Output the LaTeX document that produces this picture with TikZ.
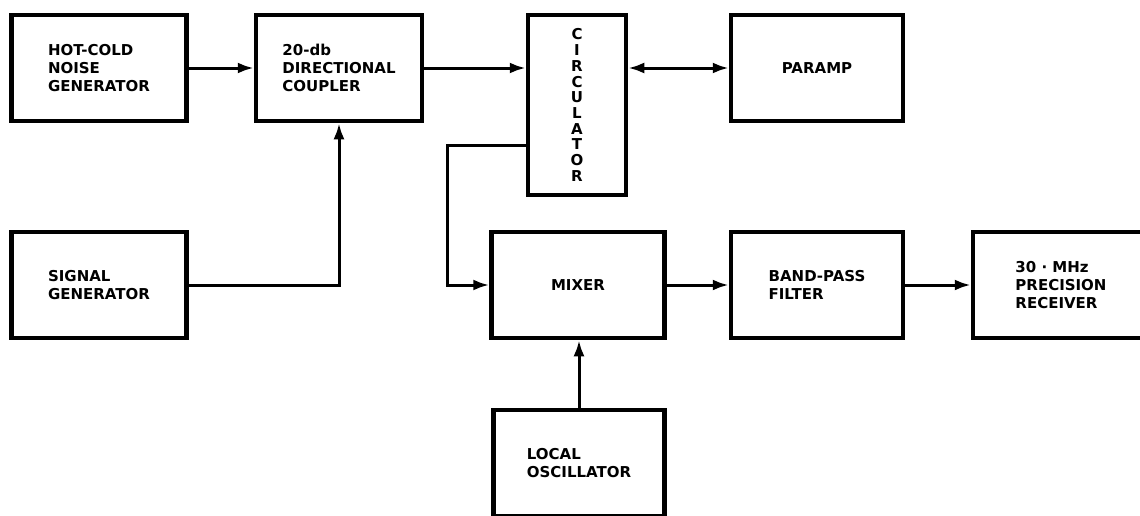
\documentclass[tikz,border=0pt]{standalone}
\usepackage{fontspec}
\setmainfont{DejaVu Sans}
\usetikzlibrary{arrows.meta,positioning}
\tikzset{
  cblk/.style={rectangle, draw, line width=4.5pt, align=left, inner sep=0pt,
               font=\fontsize{15}{18}\selectfont\bfseries, minimum width=175pt, minimum height=106pt},
  carr/.style={-{Latex[length=16pt,width=11pt]}, line width=3pt},
  cdbl/.style={{Latex[length=16pt,width=11pt]}-{Latex[length=16pt,width=11pt]}, line width=3pt},
}

\begin{document}
\begin{tikzpicture}[x=1pt,y=-1pt]
        \useasboundingbox (0,0) rectangle (1140,515);
        \clip (0,0) rectangle (1140,515);
        % top row
        \node[cblk](hot) at (99,68){HOT-COLD\\NOISE\\GENERATOR};
        \node[cblk, minimum width=166pt](dc) at (339,68){20-db\\DIRECTIONAL\\COUPLER};
        \node[cblk, minimum width=98pt, minimum height=180pt, align=center,
              font=\fontsize{15}{15.7}\selectfont\bfseries](circ) at (577,105){C\\I\\R\\C\\U\\L\\A\\T\\O\\R};
        \node[cblk, minimum width=172pt](paramp) at (817,68){PARAMP};
        % bottom rows
        \node[cblk](sig) at (99,285){SIGNAL\\GENERATOR};
        \node[cblk, minimum width=173pt](mixer) at (578,285){MIXER};
        \node[cblk, minimum width=172pt](bpf) at (817,285){BAND-PASS\\FILTER};
        \node[cblk, minimum width=176pt](rx) at (1061,285){30 · MHz\\PRECISION\\RECEIVER};
        \node[cblk, minimum width=171pt](lo) at (579,463){LOCAL\\OSCILLATOR};
        % connectors
        \draw[carr](hot)--(dc);
        \draw[carr](dc.east)--(dc.east -| circ.west);
        \draw[cdbl](paramp.west -| circ.east)--(paramp.west);
        \draw[carr](sig.east)-|(dc.south);
        \draw[carr]([yshift=-40pt]circ.west)--++(-78,0)|-(mixer.west);
        \draw[carr](mixer)--(bpf);\draw[carr](bpf)--(rx);
        \draw[carr](lo.north)--(lo.north |- mixer.south);
    \end{tikzpicture}
\end{document}
